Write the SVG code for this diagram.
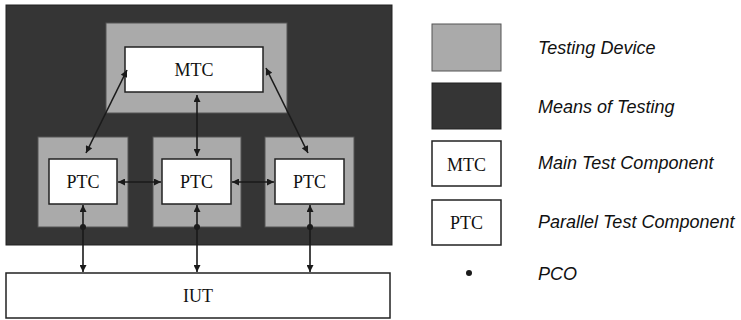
<svg xmlns="http://www.w3.org/2000/svg" width="741" height="320" viewBox="0 0 741 320">
<style>
.mot{fill:#353535;stroke:#222;stroke-width:1}
.dev{fill:#aaaaaa;stroke:#555;stroke-width:1}
.box{fill:#fff;stroke:#222;stroke-width:1.5}
.lbl{font-family:"Liberation Serif",serif;font-size:18px;fill:#111;text-anchor:middle}
.leg{font-family:"Liberation Sans",Arial,sans-serif;font-style:italic;font-size:18px;fill:#111}
.con{stroke:#1a1a1a;stroke-width:1.6;fill:none}
</style>
<defs>
<marker id="ah" viewBox="0 0 10 10" refX="10" refY="5" markerWidth="9" markerHeight="7" markerUnits="userSpaceOnUse" orient="auto-start-reverse">
<path d="M0,0 L10,5 L0,10 z" fill="#1a1a1a"/>
</marker>
</defs>
<g id="means-of-testing"><rect class="mot" x="6" y="5" width="386" height="240"/></g>
<g id="mtc-device"><rect class="dev" x="106" y="23" width="181" height="90"/></g>
<g id="ptc1-device"><rect class="dev" x="38" y="137" width="90" height="90"/></g>
<g id="ptc2-device"><rect class="dev" x="153" y="137" width="88" height="90"/></g>
<g id="ptc3-device"><rect class="dev" x="265" y="137" width="89" height="90"/></g>
<g id="mtc"><rect class="box" x="125" y="47" width="138" height="45"/><text class="lbl" x="194" y="76">MTC</text></g>
<g id="ptc1"><rect class="box" x="49" y="159" width="68" height="45"/><text class="lbl" x="83" y="188">PTC</text></g>
<g id="ptc2"><rect class="box" x="162" y="159" width="69" height="45"/><text class="lbl" x="196.5" y="188">PTC</text></g>
<g id="ptc3"><rect class="box" x="275" y="159" width="69" height="45"/><text class="lbl" x="309.5" y="188">PTC</text></g>
<g id="iut"><rect class="box" x="6" y="273" width="384" height="45"/><text class="lbl" x="198" y="302">IUT</text></g>
<g id="connectors">
<line class="con" x1="127" y1="70" x2="86" y2="153" marker-start="url(#ah)" marker-end="url(#ah)"/>
<line class="con" x1="266" y1="68" x2="308" y2="153" marker-start="url(#ah)" marker-end="url(#ah)"/>
<line class="con" x1="197" y1="95" x2="197" y2="156" marker-start="url(#ah)" marker-end="url(#ah)"/>
<line class="con" x1="118" y1="182" x2="161" y2="182" marker-start="url(#ah)" marker-end="url(#ah)"/>
<line class="con" x1="232" y1="182" x2="274" y2="182" marker-start="url(#ah)" marker-end="url(#ah)"/>
<line class="con" x1="83" y1="205" x2="83" y2="272" marker-start="url(#ah)" marker-end="url(#ah)"/>
<line class="con" x1="197" y1="205" x2="197" y2="272" marker-start="url(#ah)" marker-end="url(#ah)"/>
<line class="con" x1="310" y1="205" x2="310" y2="272" marker-start="url(#ah)" marker-end="url(#ah)"/>
<circle cx="83" cy="227" r="3" fill="#1a1a1a"/>
<circle cx="197" cy="227" r="3" fill="#1a1a1a"/>
<circle cx="310" cy="227" r="3" fill="#1a1a1a"/>
</g>
<g id="legend">
<rect class="dev" x="432" y="24" width="69" height="47"/>
<text class="leg" x="538" y="54">Testing Device</text>
<rect class="mot" x="432" y="83" width="69" height="46"/>
<text class="leg" x="538" y="113">Means of Testing</text>
<rect class="box" x="432" y="141" width="69" height="45"/>
<text class="lbl" x="466.5" y="171">MTC</text>
<text class="leg" x="538" y="169">Main Test Component</text>
<rect class="box" x="432" y="200" width="69" height="45"/>
<text class="lbl" x="466.5" y="229">PTC</text>
<text class="leg" x="538" y="228">Parallel Test Component</text>
<circle cx="469" cy="273" r="3" fill="#1a1a1a"/>
<text class="leg" x="538" y="280">PCO</text>
</g>
</svg>
